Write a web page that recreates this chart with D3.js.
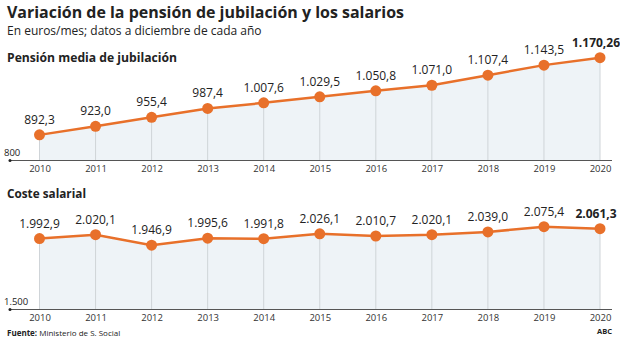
<!DOCTYPE html>
<html>
<head>
<meta charset="utf-8">
<script src="https://cdn.jsdelivr.net/npm/d3@7"></script>
<style>
  body { margin: 0; background: #fff; }
  text { font-family: "Open Sans", "Noto Sans", sans-serif; fill: #222; }
</style>
</head>
<body>
<script>
const years = [2010, 2011, 2012, 2013, 2014, 2015, 2016, 2017, 2018, 2019, 2020]
const pension = [892.3, 923.0, 955.4, 987.4, 1007.6, 1029.5, 1050.8, 1071.0, 1107.4, 1143.5, 1170.26]
const pensionLabels = ['892,3', '923,0', '955,4', '987,4', '1.007,6', '1.029,5', '1.050,8', '1.071,0', '1.107,4', '1.143,5', '1.170,26']
const salario = [1992.9, 2020.1, 1946.9, 1995.6, 1991.8, 2026.1, 2010.7, 2020.1, 2039.0, 2075.4, 2061.3]
const salarioLabels = ['1.992,9', '2.020,1', '1.946,9', '1.995,6', '1.991,8', '2.026,1', '2.010,7', '2.020,1', '2.039,0', '2.075,4', '2.061,3']

const width = 620
const height = 337
const orange = '#e8702a'

const svg = d3.select('body').append('svg')
  .attr('width', width)
  .attr('height', height)

svg.append('text').attr('x', 7).attr('y', 18)
  .style('font-size', '16px').style('font-weight', 700)
  .attr('textLength', 397).attr('lengthAdjust', 'spacingAndGlyphs')
  .text('Variación de la pensión de jubilación y los salarios')
svg.append('text').attr('x', 7).attr('y', 35)
  .style('font-size', '12px')
  .text('En euros/mes; datos a diciembre de cada año')

const x = d3.scalePoint().domain(years).range([39.5, 600])

// one panel: line chart with area, drop lines and value labels
const panel = (opts) => {
  const { title, titleY, titleLen, values, labels, y, baseLabel } = opts
  const base = y.domain()[0]
  const data = years.map((yr, i) => ({ yr, v: values[i], label: labels[i] }))
  const g = svg.append('g')

  g.append('text').attr('x', 7).attr('y', titleY)
    .style('font-size', '13px').style('font-weight', 700)
    .attr('textLength', titleLen).attr('lengthAdjust', 'spacingAndGlyphs')
    .text(title)

  g.append('path')
    .datum(data)
    .attr('fill', '#eef3f7')
    .attr('d', d3.area().x(d => x(d.yr)).y0(y(base)).y1(d => y(d.v)))

  g.selectAll('.drop').data(data).enter().append('line')
    .attr('x1', d => x(d.yr)).attr('x2', d => x(d.yr))
    .attr('y1', d => y(d.v)).attr('y2', y(base))
    .attr('stroke', '#cfd4d8').attr('stroke-width', 1)

  const axis = g.append('g')
    .attr('transform', `translate(0,${y(base)})`)
    .call(d3.axisBottom(x).tickSize(0).tickPadding(5))
  axis.select('.domain').remove()
  axis.selectAll('text').style('font-size', '9.5px').style('fill', '#333')
    .style('font-family', '"Open Sans", sans-serif')
  g.append('line')
    .attr('x1', 10).attr('x2', 612)
    .attr('y1', y(base)).attr('y2', y(base))
    .attr('stroke', '#555').attr('stroke-width', 1)
  g.append('circle').attr('cx', 10).attr('cy', y(base)).attr('r', 1.5).attr('fill', '#222')
  g.append('text').attr('x', 4).attr('y', y(base) - 5)
    .style('font-size', '9.5px')
    .text(baseLabel)

  g.append('path')
    .datum(data)
    .attr('fill', 'none')
    .attr('stroke', orange)
    .attr('stroke-width', 2.5)
    .attr('d', d3.line().x(d => x(d.yr)).y(d => y(d.v)))

  g.selectAll('.pt').data(data).enter().append('circle')
    .attr('cx', d => x(d.yr)).attr('cy', d => y(d.v))
    .attr('r', 5.5).attr('fill', orange)

  g.selectAll('.val').data(data).enter().append('text')
    .attr('x', (d, i) => x(d.yr) + (i === data.length - 1 ? -4 : 0))
    .attr('y', d => y(d.v) - 11)
    .attr('text-anchor', 'middle')
    .style('font-size', '12px')
    .style('font-weight', (d, i) => i === data.length - 1 ? 700 : 400)
    .text(d => d.label)
}

panel({
  title: 'Pensión media de jubilación',
  titleY: 62,
  titleLen: 170,
  values: pension,
  labels: pensionLabels,
  y: d3.scaleLinear().domain([800, 1170.26]).range([160.5, 57.7]),
  baseLabel: '800'
})

panel({
  title: 'Coste salarial',
  titleY: 198,
  titleLen: 79,
  values: salario,
  labels: salarioLabels,
  y: d3.scaleLinear().domain([1500, 2075.4]).range([309.5, 226.7]),
  baseLabel: '1.500'
})

svg.append('text').attr('x', 7).attr('y', 336)
  .style('font-size', '8px')
  .html('<tspan font-weight="700">Fuente:</tspan> Ministerio de S. Social')
svg.append('text').attr('x', 612).attr('y', 334)
  .attr('text-anchor', 'end')
  .style('font-size', '7.5px').style('font-weight', 700)
  .text('ABC')
</script>
</body>
</html>
